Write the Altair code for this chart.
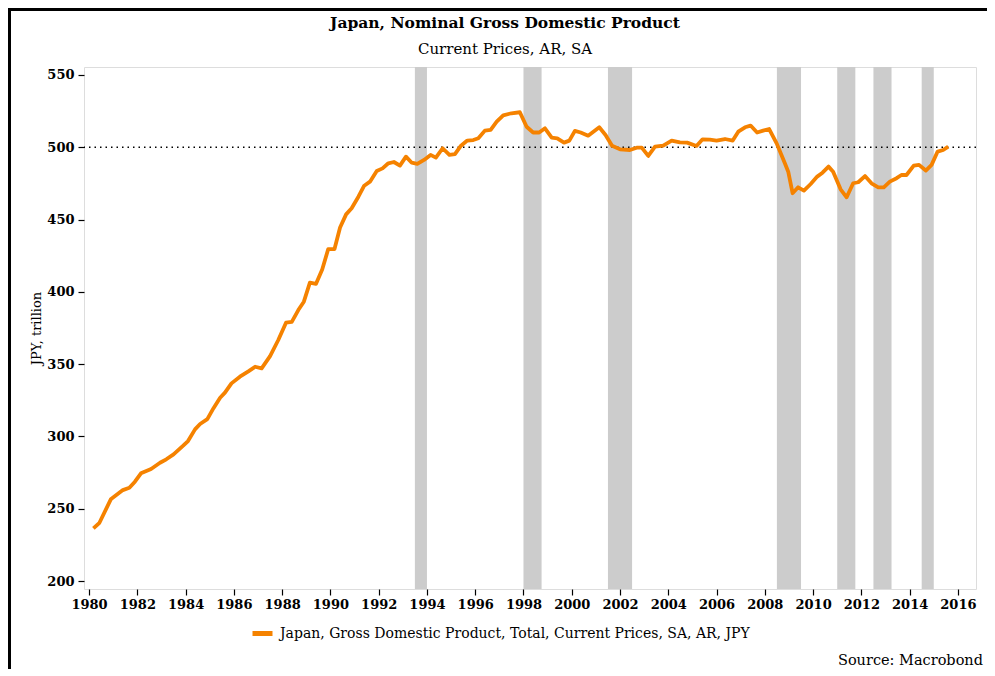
import altair as alt
import pandas as pd

# ---- data (quarterly, nominal GDP, JPY trillion) ----
years = [
    1980.18, 1980.43, 1980.9, 1981.4, 1981.67, 1981.9, 1982.15, 1982.57, 1982.94, 1983.2,
    1983.5, 1983.9, 1984.1, 1984.39, 1984.6, 1984.9, 1985.15, 1985.43, 1985.63, 1985.9,
    1986.25, 1986.6, 1986.88, 1987.15, 1987.5, 1987.84, 1988.16, 1988.4, 1988.67, 1988.9,
    1989.15, 1989.4, 1989.66, 1989.91, 1990.17, 1990.4, 1990.65, 1990.88, 1991.16, 1991.4,
    1991.64, 1991.92, 1992.16, 1992.4, 1992.63, 1992.88, 1993.13, 1993.37, 1993.6, 1993.88,
    1994.15, 1994.37, 1994.65, 1994.93, 1995.16, 1995.41, 1995.67, 1995.92, 1996.13, 1996.4,
    1996.64, 1996.89, 1997.16, 1997.5, 1997.85, 1998.13, 1998.4, 1998.65, 1998.89, 1999.17,
    1999.4, 1999.68, 1999.9, 2000.13, 2000.37, 2000.68, 2001.14, 2001.4, 2001.67, 2002.0,
    2002.41, 2002.69, 2002.9, 2003.17, 2003.45, 2003.79, 2004.14, 2004.48, 2004.78, 2005.17,
    2005.42, 2005.72, 2006.0, 2006.35, 2006.67, 2006.9, 2007.18, 2007.41, 2007.68, 2007.93,
    2008.18, 2008.49, 2008.83, 2008.97, 2009.15, 2009.38, 2009.62, 2009.9, 2010.17, 2010.39,
    2010.64, 2010.83, 2011.14, 2011.39, 2011.66, 2011.87, 2012.15, 2012.42, 2012.7, 2012.93,
    2013.18, 2013.46, 2013.66, 2013.87, 2014.17, 2014.39, 2014.67, 2014.91, 2015.16, 2015.39,
    2015.6,
]
gdp = [
    236.4, 240.3, 256.5, 262.9, 264.5, 268.7, 274.5, 277.5, 281.8, 284.2,
    287.6, 293.6, 296.8, 304.9, 308.6, 312.0, 319.4, 326.8, 330.3, 336.7,
    341.3, 345.0, 348.2, 347.1, 355.6, 366.7, 378.7, 379.2, 387.4, 393.2,
    406.4, 405.5, 415.5, 429.6, 429.6, 444.5, 453.6, 457.8, 465.8, 473.4,
    476.2, 483.6, 485.4, 488.9, 489.8, 487.3, 493.5, 489.3, 488.5, 491.2,
    494.7, 492.8, 499.3, 494.7, 495.2, 501.1, 504.6, 505.0, 506.2, 511.5,
    512.0, 517.7, 522.1, 523.5, 524.2, 514.2, 510.2, 510.2, 513.1, 506.6,
    506.2, 503.2, 504.6, 511.3, 510.2, 508.0, 513.8, 508.5, 501.0, 498.6,
    498.1, 499.7, 499.7, 494.0, 500.4, 501.1, 504.6, 503.4, 503.2, 500.9,
    505.5, 505.3, 504.6, 505.7, 504.6, 510.8, 513.8, 515.0, 510.2, 511.5,
    512.6, 502.7, 488.9, 483.1, 468.2, 472.3, 470.0, 474.6, 479.7, 482.4,
    486.6, 483.1, 470.9, 465.4, 475.1, 475.8, 480.1, 475.1, 472.3, 472.3,
    476.2, 478.6, 480.8, 480.8, 487.3, 487.8, 483.9, 487.8, 497.0, 498.1,
    500.4,
]
rec_start = [1993.5, 1998.0, 2001.5, 2008.5, 2011.0, 2012.5, 2014.5]
rec_end = [1994.0, 1998.75, 2002.5, 2009.5, 2011.75, 2013.25, 2015.0]
x_ticks = list(range(1980, 2017, 2))
y_ticks = [200, 250, 300, 350, 400, 450, 500, 550]
ref_level = [500]
series_name = "Japan, Gross Domestic Product, Total, Current Prices, SA, AR, JPY"
title_text = "Japan, Nominal Gross Domestic Product"
subtitle_text = "Current Prices, AR, SA"
source_text = "Source: Macrobond"
y_title = "JPY, trillion"

# ---- tables ----
df_line = pd.DataFrame({"year": years, "gdp": gdp, "series": [series_name] * len(years)})
df_rec = pd.DataFrame({"start": rec_start, "end": rec_end})
df_ref = pd.DataFrame({"level": ref_level})
df_one = pd.DataFrame({"k": [0]})

W, H = 892, 522
SERIF = "DejaVu Serif"
ORANGE = "#f58200"

xscale = alt.Scale(domain=[1979.79, 2016.75], nice=False, zero=False)
yscale = alt.Scale(domain=[194.5, 555.5], nice=False, zero=False)

xaxis = alt.Axis(values=x_ticks, format="d", title=None, grid=False, domain=False,
                 ticks=True, tickSize=6, tickColor="black", tickWidth=1.2,
                 labelFont=SERIF, labelFontSize=13, labelFontWeight="bold",
                 labelColor="black", labelPadding=3, labelFlush=False)
yaxis = alt.Axis(values=y_ticks, title=y_title, grid=False, domain=False,
                 ticks=True, tickSize=6, tickColor="black", tickWidth=1.2,
                 labelFont=SERIF, labelFontSize=13, labelFontWeight="bold",
                 labelColor="black", labelPadding=4,
                 titleFont=SERIF, titleFontSize=13, titleFontWeight="normal",
                 titleColor="black", titlePadding=3)

bands = alt.Chart(df_rec).mark_rect(color="#cccccc").encode(
    x=alt.X("start:Q", scale=xscale, axis=xaxis),
    x2="end:Q",
    y=alt.value(0),
    y2=alt.value(H),
)

ref = alt.Chart(df_ref).mark_rule(color="black", strokeDash=[1.5, 4], strokeWidth=1.3).encode(
    y=alt.Y("level:Q", scale=yscale, axis=yaxis),
)

line = alt.Chart(df_line).mark_line(strokeWidth=3.8, strokeJoin="round").encode(
    x=alt.X("year:Q", scale=xscale, axis=xaxis),
    y=alt.Y("gdp:Q", scale=yscale, axis=yaxis),
    color=alt.Color("series:N", scale=alt.Scale(range=[ORANGE]),
                    legend=alt.Legend(title=None, orient="none", legendX=166, legendY=554,
                                      symbolType="stroke", symbolSize=400,
                                      symbolStrokeWidth=5, labelFont=SERIF,
                                      labelFontSize=14, labelColor="black",
                                      labelOffset=5, labelLimit=800)),
)

title = alt.Chart(df_one).mark_text(text=title_text, align="center", baseline="alphabetic",
                                    font=SERIF, fontSize=15.5, fontWeight="bold",
                                    color="black").encode(
    x=alt.value(421), y=alt.value(-39))
subtitle = alt.Chart(df_one).mark_text(text=subtitle_text, align="center", baseline="alphabetic",
                                       font=SERIF, fontSize=15, color="black").encode(
    x=alt.value(421), y=alt.value(-13))

source = alt.Chart(df_one).mark_text(text=source_text, align="right", baseline="alphabetic",
                                     font=SERIF, fontSize=14.5, color="black").encode(
    x=alt.value(899), y=alt.value(598))

frame_top = alt.Chart(df_one).mark_rule(color="black", strokeWidth=3).encode(
    x=alt.value(-76), x2=alt.value(911), y=alt.value(-57.5))
frame_left = alt.Chart(df_one).mark_rule(color="black", strokeWidth=3).encode(
    x=alt.value(-74.5), y=alt.value(-59), y2=alt.value(609))

chart = alt.layer(bands, ref, line, title, subtitle, source, frame_top, frame_left).properties(
    width=W, height=H,
    autosize=alt.AutoSizeParams(type="none"),
    padding={"left": 76, "top": 59, "right": 11, "bottom": 80},
).configure_view(stroke="#8c8c8c", strokeWidth=1.5).configure(background="white")

chart.save("out.html", embed_options={"renderer": "svg", "actions": False})
